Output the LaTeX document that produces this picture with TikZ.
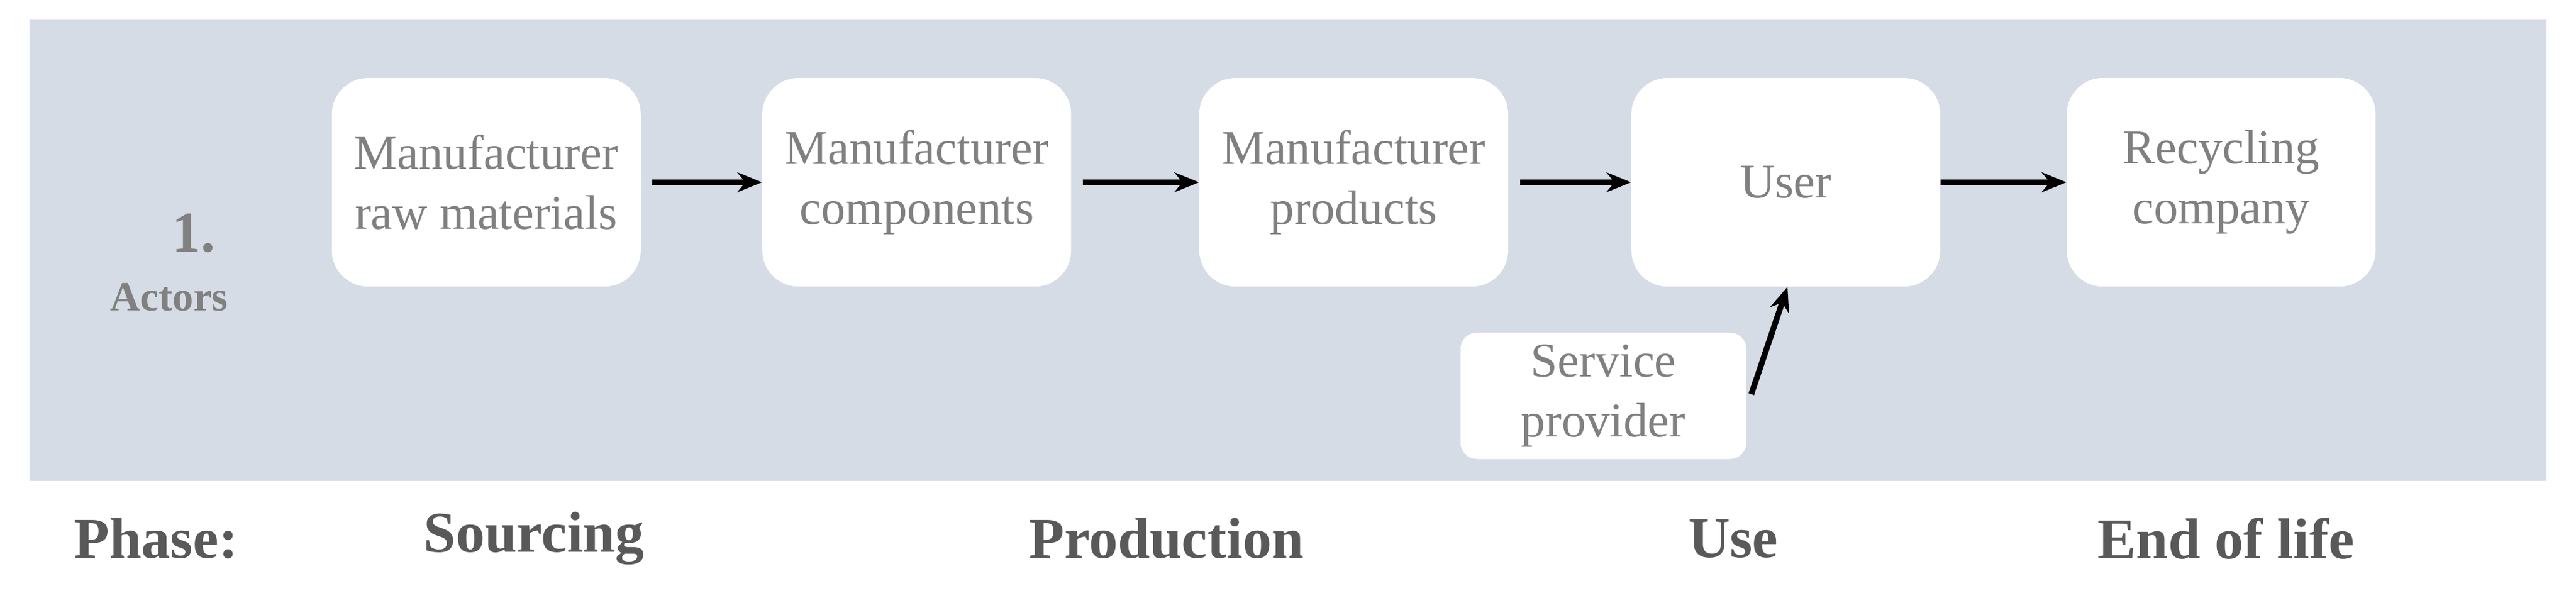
\documentclass[tikz,border=0pt]{standalone}
\usepackage{fontspec}
\setmainfont{Liberation Serif}
\usetikzlibrary{positioning}
\usetikzlibrary{arrows.meta}
\definecolor{bandgray}{HTML}{D6DCE5}
\definecolor{txtgray}{HTML}{808080}
\definecolor{phasegray}{HTML}{595959}
\begin{document}
\begin{tikzpicture}[x=0.05cm,y=-0.05cm,
actor/.style = {fill=white,rounded corners=1.1cm,minimum width=9.4cm,minimum height=6.35cm,
  align=center,text=txtgray,font=\fontsize{42}{52}\selectfont},
phase/.style = {text=phasegray,font=\bfseries\fontsize{50}{60}\selectfont},
flow/.style = {-{Stealth[length=0.75cm,width=0.6cm]},line width=5pt}]
\useasboundingbox (0,0) rectangle (1568,364);
\fill[bandgray] (18,12) rectangle (1550,293);
\node (raw) [actor] at (296,111) {Manufacturer\\raw materials};
\node (comp) [actor] at (558,111) {Manufacturer\\components};
\node (prod) [actor] at (824,111) {Manufacturer\\products};
\node (user) [actor] at (1087,111) {User};
\node (recy) [actor] at (1352,111) {Recycling\\company};
\node (serv) [actor,minimum width=8.7cm,minimum height=3.85cm,rounded corners=0.5cm] at (976,241) {Service\\provider};
\node (num) [phase,text=txtgray] at (118,142) {1.};
\node (act) [phase,text=txtgray,font=\bfseries\fontsize{36}{44}\selectfont] at (103,181) {Actors};
\draw[flow] ([xshift=0.35cm]raw.east) -- (comp.west);
\draw[flow] ([xshift=0.35cm]comp.east) -- (prod.west);
\draw[flow] ([xshift=0.35cm]prod.east) -- (user.west);
\draw[flow] (user.east) -- (recy.west);
\coordinate (st) at (1066,240);
\draw[flow] (st) -- ([xshift=0.05cm]user.south);
\node (ph) [phase] at (95,328) {Phase:};
\node (src) [phase] at (325,328) {Sourcing};
\node (pro) [phase] at (710,328) {Production};
\node (use) [phase] at (1055,328) {Use};
\node (eol) [phase] at (1355,328) {End of life};
\end{tikzpicture}
\end{document}
